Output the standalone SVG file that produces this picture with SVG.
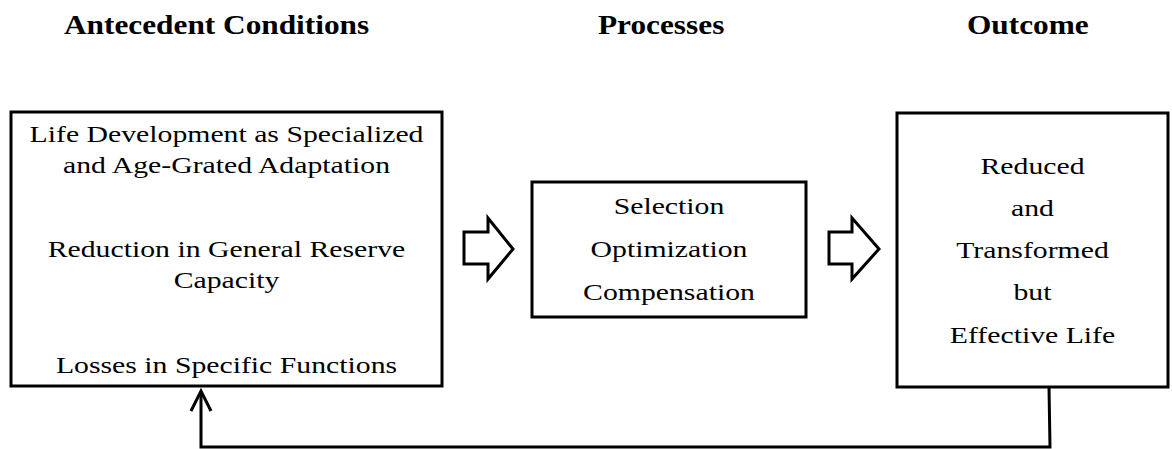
<svg xmlns="http://www.w3.org/2000/svg" width="1172" height="449" viewBox="0 0 1172 449">
<style>
.box{fill:#fff;stroke:#000;stroke-width:3}
.hollow{fill:#fff;stroke:#000;stroke-width:3;stroke-linejoin:miter}
.t{font-family:"Liberation Serif","Times New Roman",serif;font-size:24px;fill:#000;text-anchor:middle}
.h{font-family:"Liberation Serif","Times New Roman",serif;font-size:27px;font-weight:bold;fill:#000}
.conn{fill:none;stroke:#000;stroke-width:3}
</style>
<rect width="1172" height="449" fill="#fff"/>
<g id="headings">
<g transform="translate(64 34) scale(1.16 1)"><text class="h" x="0" y="0">Antecedent Conditions</text></g>
<g transform="translate(598 34) scale(1.16 1)"><text class="h" x="0" y="0">Processes</text></g>
<g transform="translate(967 34) scale(1.16 1)"><text class="h" x="0" y="0">Outcome</text></g>
</g>
<g id="antecedent">
<rect class="box" x="11" y="112" width="431" height="274"/>
<g transform="translate(226.5 0) scale(1.24 1)">
<text class="t" x="0" y="142">Life Development as Specialized</text>
<text class="t" x="0" y="173">and Age-Grated Adaptation</text>
<text class="t" x="0" y="257">Reduction in General Reserve</text>
<text class="t" x="0" y="288">Capacity</text>
<text class="t" x="0" y="373">Losses in Specific Functions</text>
</g>
</g>
<g id="processes">
<rect class="box" x="532" y="182" width="274" height="135"/>
<g transform="translate(669 0) scale(1.24 1)">
<text class="t" x="0" y="214">Selection</text>
<text class="t" x="0" y="257">Optimization</text>
<text class="t" x="0" y="300">Compensation</text>
</g>
</g>
<g id="outcome">
<rect class="box" x="897" y="113" width="271" height="274"/>
<g transform="translate(1032.5 0) scale(1.24 1)">
<text class="t" x="0" y="174">Reduced</text>
<text class="t" x="0" y="216">and</text>
<text class="t" x="0" y="258">Transformed</text>
<text class="t" x="0" y="300">but</text>
<text class="t" x="0" y="343">Effective Life</text>
</g>
</g>
<g id="connectors">
<polygon class="hollow" points="464,232 488,232 488,218 513,249 488,279 488,264 464,264"/>
<polygon class="hollow" points="829,232 852,232 852,218 879,249 852,279 852,264 829,264"/>
<polyline class="conn" points="1049,387 1050,447 201,447 201,393"/>
<polyline class="conn" points="191,411 201,391 211,411"/>
</g>
</svg>
